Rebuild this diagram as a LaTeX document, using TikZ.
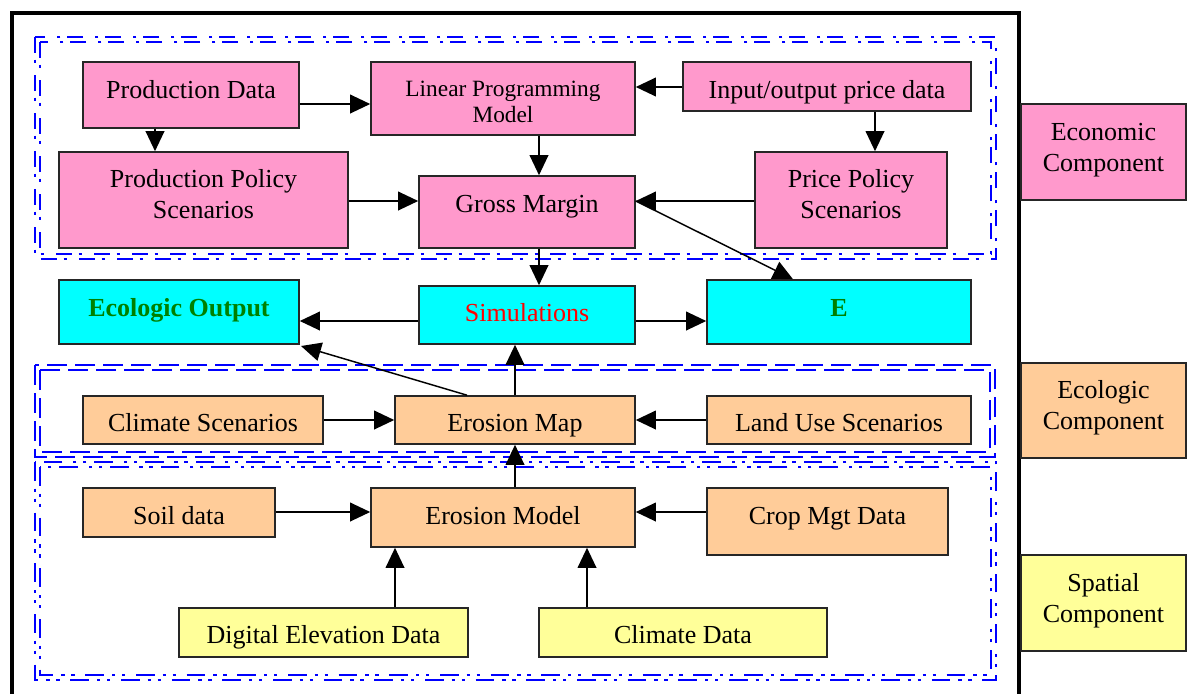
\documentclass[tikz,border=0pt]{standalone}
\usepackage{fontspec}
\setmainfont{Liberation Serif}
\usetikzlibrary{arrows.meta}
\definecolor{ecopink}{HTML}{FF99CC}
\definecolor{ecocyan}{HTML}{00FFFF}
\definecolor{ecoorange}{HTML}{FFCC99}
\definecolor{ecoyellow}{HTML}{FFFF99}
\definecolor{ecogreen}{HTML}{008000}
\definecolor{ecored}{HTML}{FF0000}
\definecolor{ecoblue}{HTML}{0000FF}
\newcommand\bxn[7]{\node[#1, minimum width={(#5-#3)*0.75pt}, minimum height={(#6-#4)*0.75pt}] (#2) at ({(#3+#5)/2},{(#4+#6)/2}) {#7};}
\newcommand\mv[2]{\raisebox{#1pt}[0pt][0pt]{\begin{tabular}{@{}c@{}}#2\end{tabular}}}
\tikzset{
  x=0.75pt, y=-0.75pt,
  basebox/.style={draw=black!85, line width=1.2pt, inner sep=0pt, align=center,
    font=\fontsize{19.5}{23}\selectfont},
  pinkbox/.style={basebox, fill=ecopink},
  cyanbox/.style={basebox, fill=ecocyan},
  orangebox/.style={basebox, fill=ecoorange},
  yellowbox/.style={basebox, fill=ecoyellow},
  arr/.style={line width=1.1pt, -{Triangle[length=15pt,width=14pt]}},
  bluel/.style={draw=ecoblue, line width=1.5pt},
  econline/.style={bluel, dash pattern=on 12pt off 5pt on 2.5pt off 9pt},
  ecolline/.style={bluel, dash pattern=on 15pt off 6pt},
  spatline/.style={bluel, dash pattern=on 14pt off 6pt on 2.5pt off 5pt on 2.5pt off 8pt},
}
\begin{document}
\begin{tikzpicture}
\useasboundingbox (0,0) rectangle (1187,693);
\begin{scope}
\clip (0,0) rectangle (1187,693);
% outer black frame
\draw[line width=3.2pt, black] (12,13) -- (1019,13) -- (1019,720) -- (12,720) -- cycle;
\end{scope}
% group frames (double lines)
\draw[econline] (35,37) rectangle (996,259);
\draw[econline] (40,42) rectangle (991,254);
\draw[ecolline] (35,365) rectangle (995,457);
\draw[ecolline] (40,370) rectangle (990,452);
\draw[spatline] (35,462) rectangle (996,680);
\draw[spatline] (40,467) rectangle (991,675);
% economic nodes
\bxn{pinkbox}{PD}{83}{62}{299}{128}{\mv{-3.05}{Production Data}}
\bxn{pinkbox, font=\fontsize{17.5}{19.5}\selectfont}{LP}{371}{62}{635}{135}{\mv{-8.5}{Linear Programming\\Model}}
\bxn{pinkbox}{IO}{683}{62}{971}{111}{\mv{-9.4}{Input/output price data}}
\bxn{pinkbox}{PPS}{59}{152}{348}{248}{\mv{-3.05}{Production Policy\\Scenarios}}
\bxn{pinkbox}{GM}{419}{176}{635}{248}{\mv{-0.8}{Gross Margin}}
\bxn{pinkbox}{PRS}{755}{152}{947}{248}{\mv{-3.05}{Price Policy\\Scenarios}}
% outputs
\bxn{cyanbox}{EO}{59}{280}{299}{344}{\mv{-3.8}{\textcolor{ecogreen}{\bfseries Ecologic Output}}}
\bxn{cyanbox}{SIM}{419}{286}{635}{344}{\mv{-5.3}{\textcolor{ecored}{Simulations}}}
\bxn{cyanbox}{E}{707}{280}{971}{344}{\mv{-3.8}{\textcolor{ecogreen}{\bfseries E}}}
% ecologic
\bxn{orangebox}{CS}{83}{396}{323}{444}{\mv{-9.05}{Climate Scenarios}}
\bxn{orangebox}{EMAP}{395}{396}{635}{444}{\mv{-9.05}{Erosion Map}}
\bxn{orangebox}{LU}{707}{396}{971}{444}{\mv{-9.05}{Land Use Scenarios}}
% spatial
\bxn{orangebox}{SOIL}{83}{488}{275}{537}{\mv{-9.4}{Soil data}}
\bxn{orangebox}{EMOD}{371}{488}{635}{547}{\mv{-5.7}{Erosion Model}}
\bxn{orangebox}{CROP}{707}{488}{948}{555}{\mv{-2.7}{Crop Mgt Data}}
\bxn{yellowbox}{DED}{179}{608}{468}{657}{\mv{-8.7}{Digital Elevation Data}}
\bxn{yellowbox}{CD}{539}{608}{827}{657}{\mv{-8.7}{Climate Data}}
% component legend
\bxn{pinkbox}{ECON}{1021}{104}{1186}{200}{\mv{-3.4}{Economic\\Component}}
\bxn{orangebox}{ECOL}{1021}{363}{1186}{458}{\mv{-3.4}{Ecologic\\Component}}
\bxn{yellowbox}{SPAT}{1021}{555}{1186}{651}{\mv{-3.4}{Spatial\\Component}}
% helper coordinates
\coordinate (x155) at (155,0);
\coordinate (y104) at (0,104);
\coordinate (y87) at (0,87);
\coordinate (x875) at (875,0);
\coordinate (x539) at (539,0);
\coordinate (y201) at (0,201);
\coordinate (y321) at (0,321);
\coordinate (x515) at (515,0);
\coordinate (x793) at (793,0);
\coordinate (x467) at (467,0);
\coordinate (y420) at (0,420);
\coordinate (y512) at (0,512);
\coordinate (x395) at (395,0);
\coordinate (x587) at (587,0);
\coordinate (eotip) at (301,346);
% arrows
\draw[arr] (PD.east |- y104) -- (LP.west |- y104);
\draw[arr] (PD.south -| x155) -- (PPS.north -| x155);
\draw[arr] (IO.west |- y87) -- (LP.east |- y87);
\draw[arr] (IO.south -| x875) -- (PRS.north -| x875);
\draw[arr] (LP.south -| x539) -- (GM.north -| x539);
\draw[arr] (PPS.east |- y201) -- (GM.west |- y201);
\draw[arr] (PRS.west |- y201) -- (GM.east |- y201);
\draw[arr] (GM.east |- y201) -- (E.north -| x793);
\draw[arr] (GM.south -| x539) -- (SIM.north -| x539);
\draw[arr] (SIM.west |- y321) -- (EO.east |- y321);
\draw[arr] (SIM.east |- y321) -- (E.west |- y321);
\draw[arr] (EMAP.north -| x515) -- (SIM.south -| x515);
\draw[arr] (EMAP.north -| x467) -- (eotip);
\draw[arr] (CS.east |- y420) -- (EMAP.west |- y420);
\draw[arr] (LU.west |- y420) -- (EMAP.east |- y420);
\draw[arr] (EMOD.north -| x515) -- (EMAP.south -| x515);
\draw[arr] (SOIL.east |- y512) -- (EMOD.west |- y512);
\draw[arr] (CROP.west |- y512) -- (EMOD.east |- y512);
\draw[arr] (DED.north -| x395) -- (EMOD.south -| x395);
\draw[arr] (CD.north -| x587) -- (EMOD.south -| x587);
\end{tikzpicture}
\end{document}
